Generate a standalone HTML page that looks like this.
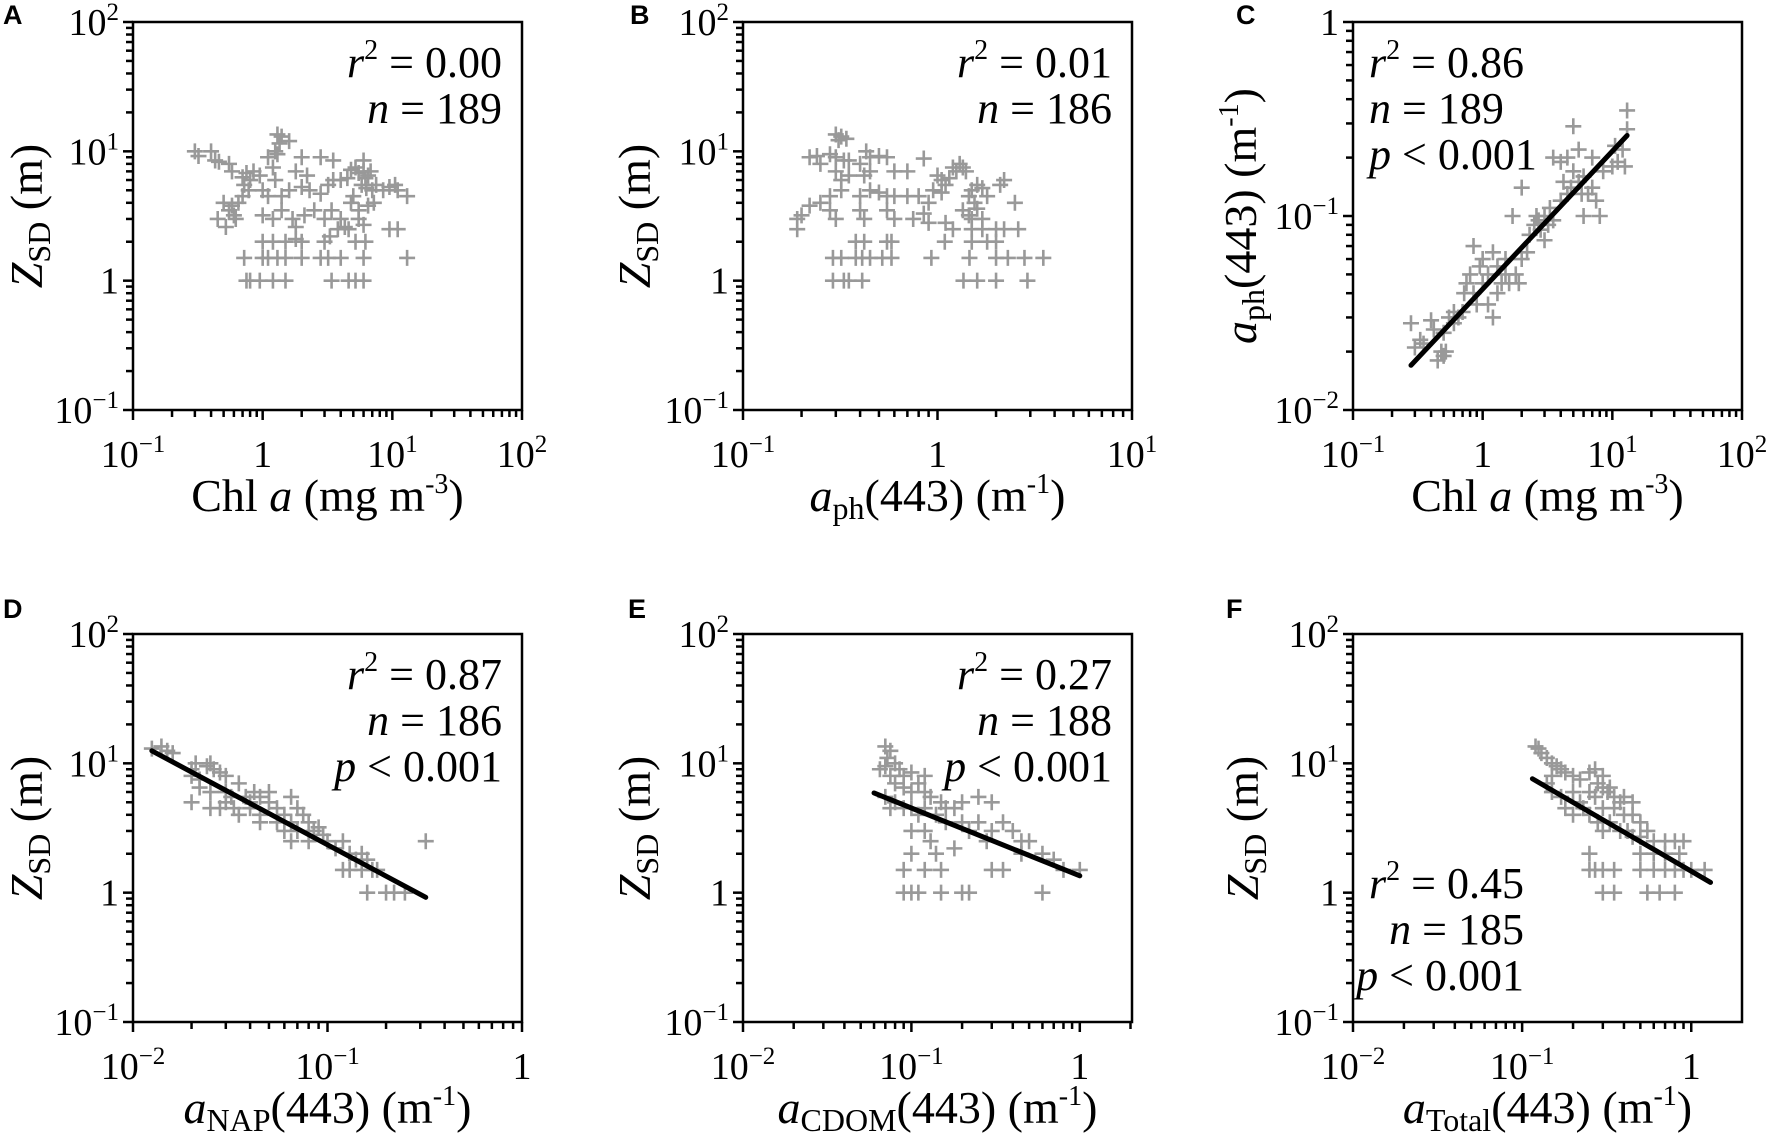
<!DOCTYPE html>
<html><head><meta charset="utf-8"><style>
html,body{margin:0;padding:0;background:#fff}
svg{display:block}
svg text{font-family:"Liberation Serif","DejaVu Serif",serif;fill:#000}
svg text.lbl{font-family:"Liberation Sans","DejaVu Sans",sans-serif;font-weight:bold;font-size:27px}
</style></head><body>
<svg id="fig" width="1772" height="1141" viewBox="0 0 1772 1141" xmlns="http://www.w3.org/2000/svg" font-family="Liberation Serif, serif"></svg>
<script>
// ---- data ----
const ptsA = [[0.3,10],[0.32,9.2],[0.4,10],[0.43,8.5],[0.46,8.3],[0.55,8],[0.58,7],[0.7,6.3],[0.72,5.5],[0.75,6.8],[0.8,6],[0.78,5],[0.85,7],[0.95,6.5],[1.1,9],[1.2,7.5],[1.3,13.5],[1.4,13],[1.35,11.5],[1.6,12],[1.25,10],[1.3,9.5],[2,9],[2.8,9],[3.5,8.5],[6,8.5],[1.8,7],[2.2,6.5],[1.25,6],[1.0,5],[1.1,4.5],[1.4,4.5],[1.6,5],[2.0,5.3],[2.3,5],[2.8,4.7],[3.2,5.5],[3.5,6],[4,6],[4.5,6.2],[4.8,7.2],[5.2,7.5],[5.5,6.8],[6,7],[6.2,6.2],[6.5,6.5],[6.8,7],[5.8,5.5],[6.3,5.2],[7,5],[7.5,5.5],[8.5,5],[9.5,5.3],[10.5,5.5],[11,5],[13,4.5],[5,4.5],[4.8,4],[5.5,3.5],[6.5,3.8],[7.2,4],[0.5,4],[0.55,3.5],[0.6,3.2],[0.45,3],[0.52,2.6],[0.58,3.8],[0.65,4],[0.7,4.5],[0.62,3],[1.0,3.2],[1.2,3],[1.4,3.5],[1.7,3],[2.1,3.2],[2.5,3.5],[3.0,3],[3.4,3.5],[4.0,3.0],[4.3,2.6],[4.6,2.5],[5.5,3],[6,2.7],[3.8,2.5],[1.8,2.6],[9.5,2.5],[11,2.5],[1,2],[1.2,2],[1.5,2],[1.8,2.1],[2,2],[3,2],[3.3,2.2],[5.2,2],[6.2,2],[0.72,1.5],[1,1.5],[1.1,1.5],[1.3,1.5],[1.5,1.5],[2,1.5],[2.8,1.5],[3.2,1.5],[4,1.5],[6,1.5],[13,1.5],[0.75,1],[0.8,1],[0.95,1],[1.2,1],[1.5,1],[3.4,1],[4.6,1],[5.2,1],[6,1]];
const ptsB = [[0.3,13.5],[0.32,13],[0.31,12.2],[0.34,12.5],[0.22,9],[0.24,9.2],[0.25,8],[0.28,9.5],[0.3,9],[0.33,8.5],[0.35,8.5],[0.4,8],[0.43,10],[0.45,9],[0.5,9.2],[0.55,9],[0.3,7],[0.32,6],[0.35,6.5],[0.42,6.5],[0.45,7],[0.6,7],[0.7,7],[0.85,8.8],[1.2,7.5],[1.3,8],[1.35,7.5],[1.4,7],[1.25,7],[1.0,6.5],[1.05,6],[1.1,5.5],[1.15,6.2],[0.95,5],[1.05,4.8],[1.5,5],[1.6,5.5],[1.7,5.2],[1.8,4.5],[2.1,5.5],[2.2,6],[1.45,4.5],[1.55,4],[1.6,3.6],[1.45,3.2],[1.5,3],[1.7,3],[1.35,3.5],[2.5,4],[0.28,4.5],[0.32,5],[0.4,4.5],[0.45,5],[0.5,4.8],[0.55,4.5],[0.6,4.5],[0.7,4.5],[0.8,4.5],[0.9,4],[0.25,4],[0.22,3.8],[0.28,3.5],[0.19,3],[0.2,3.2],[0.19,2.5],[0.3,3],[0.4,3.5],[0.42,3],[0.55,3.5],[0.6,3],[0.75,3],[0.85,3.3],[0.9,2.8],[1.1,2.8],[1.2,2.5],[1.5,2.5],[1.7,2.5],[2.0,2.5],[2.2,2.5],[2.6,2.5],[1.8,2],[0.38,2],[0.42,2],[0.55,2],[0.58,2],[1.09,2],[1.5,2],[2.0,2],[0.29,1.5],[0.32,1.5],[0.38,1.5],[0.41,1.5],[0.45,1.5],[0.52,1.5],[0.58,1.5],[0.93,1.5],[1.46,1.5],[2.0,1.5],[2.3,1.5],[2.8,1.5],[3.5,1.5],[0.29,1],[0.33,1],[0.35,1],[0.41,1],[1.36,1],[1.6,1],[2.0,1],[2.9,1]];
const ptsC = [[0.28,0.028],[0.3,0.021],[0.33,0.023],[0.35,0.022],[0.4,0.029],[0.42,0.026],[0.45,0.018],[0.5,0.019],[0.48,0.02],[0.52,0.02],[0.5,0.025],[0.55,0.03],[0.6,0.032],[0.6,0.028],[0.65,0.03],[0.7,0.032],[0.72,0.04],[0.75,0.045],[0.8,0.05],[0.85,0.04],[0.85,0.07],[0.9,0.035],[0.95,0.055],[1.0,0.045],[1.0,0.06],[1.1,0.05],[1.1,0.035],[1.2,0.03],[1.2,0.065],[1.3,0.04],[1.3,0.055],[1.4,0.045],[1.5,0.05],[1.5,0.06],[1.6,0.045],[1.7,0.1],[1.8,0.05],[1.9,0.045],[2.0,0.06],[2.0,0.14],[2.2,0.065],[2.3,0.08],[2.5,0.09],[2.6,0.1],[2.8,0.085],[3,0.1],[3,0.075],[3.3,0.11],[3.5,0.095],[3.5,0.2],[4,0.12],[4,0.19],[4.2,0.15],[4.5,0.13],[4.8,0.14],[5,0.29],[5,0.17],[5.5,0.15],[5.5,0.22],[6,0.1],[6,0.16],[6.5,0.13],[7,0.2],[7,0.14],[7.5,0.12],[8,0.1],[8.5,0.17],[10,0.18],[10.5,0.23],[11,0.19],[12,0.22],[12.5,0.18],[13,0.35],[13,0.28],[3.2,0.09],[2.7,0.095],[4.5,0.2],[5.8,0.13]];
const ptsD = [[0.0125,13],[0.014,13.5],[0.015,12.5],[0.016,12],[0.02,9],[0.021,10],[0.022,7.5],[0.024,9.5],[0.025,10],[0.026,9],[0.028,8.5],[0.02,8],[0.02,5],[0.022,6.5],[0.025,6],[0.025,4.5],[0.03,8],[0.03,6],[0.03,5],[0.032,5.5],[0.033,4.5],[0.035,7],[0.035,4],[0.038,5.5],[0.04,5],[0.04,4.5],[0.042,6],[0.045,5.5],[0.045,4],[0.05,5],[0.05,6],[0.055,4.5],[0.055,3.5],[0.06,4],[0.06,3],[0.065,5.5],[0.065,3.5],[0.07,4.5],[0.07,3],[0.075,4],[0.08,3.5],[0.08,2.5],[0.085,3],[0.09,3.2],[0.095,2.8],[0.1,2.5],[0.11,2.2],[0.12,2.5],[0.12,1.5],[0.13,2],[0.14,1.8],[0.15,1.5],[0.15,2],[0.16,1.8],[0.16,1],[0.17,1.5],[0.18,1.5],[0.2,1],[0.22,1],[0.25,1],[0.32,2.5],[0.13,1.5],[0.028,4.5],[0.045,3.5],[0.065,2.5]];
const ptsE = [[0.07,13.5],[0.075,12.5],[0.072,11],[0.08,10],[0.07,9.5],[0.065,9],[0.075,8],[0.085,9],[0.09,8],[0.1,8.5],[0.08,7],[0.09,6.5],[0.1,6],[0.11,7],[0.12,6],[0.13,5.5],[0.07,5.5],[0.075,4.5],[0.08,5],[0.09,4.5],[0.1,4.5],[0.11,4],[0.12,4.5],[0.14,4],[0.15,5],[0.16,4.5],[0.18,4.5],[0.2,5],[0.25,5.5],[0.3,5],[0.16,3.5],[0.2,3.5],[0.22,3],[0.25,3.5],[0.3,3],[0.35,3.5],[0.4,3],[0.45,2.5],[0.5,2.5],[0.6,2],[0.7,1.8],[0.8,1.5],[1.0,1.5],[0.1,3],[0.12,3],[0.13,2.5],[0.14,2],[0.1,2],[0.09,1.5],[0.12,1.5],[0.15,1.5],[0.3,1.5],[0.35,1.5],[0.45,2],[0.09,1],[0.1,1],[0.11,1],[0.15,1],[0.2,1],[0.22,1],[0.6,1],[0.28,2.5],[0.18,2.2],[0.12,8]];
const ptsF = [[0.12,13.5],[0.125,13],[0.13,12],[0.14,11],[0.15,10],[0.16,9.5],[0.17,9],[0.15,8],[0.18,8.5],[0.2,8],[0.22,7.5],[0.25,8.5],[0.27,9],[0.28,7],[0.3,6.5],[0.32,6],[0.35,5.5],[0.38,5],[0.3,8],[0.33,6.5],[0.14,7],[0.15,6],[0.17,5.5],[0.2,6],[0.22,5],[0.25,6],[0.27,5.5],[0.18,4.5],[0.2,4],[0.23,4.5],[0.25,4],[0.28,3.5],[0.3,4.5],[0.35,4.5],[0.4,4],[0.45,4],[0.5,3.5],[0.3,3],[0.33,3.5],[0.38,3],[0.42,3],[0.45,2.7],[0.5,2.7],[0.55,3],[0.6,2.5],[0.7,2.5],[0.8,2.5],[0.9,2.5],[0.5,2],[0.6,2],[0.7,2],[0.85,2],[0.25,2],[0.25,1.5],[0.27,1.5],[0.3,1.5],[0.35,1.5],[0.5,1.5],[0.6,1.5],[0.7,1.5],[0.8,1.5],[0.9,1.5],[1.0,1.5],[1.2,1.5],[0.3,1],[0.35,1],[0.55,1],[0.65,1],[0.8,1],[0.4,5.5],[0.45,5]];
const fitC = [[0.28,0.017],[13,0.26]];
const fitD = [[0.0125,12.5],[0.32,0.92]];
const fitE = [[0.06,5.9],[1.0,1.35]];
const fitF = [[0.115,7.6],[1.3,1.2]];
const statsA = ["0.00","189",null];
const statsB = ["0.01","186",null];
const statsC = ["0.86","189","0.001"];
const statsD = ["0.87","186","0.001"];
const statsE = ["0.27","188","0.001"];
const statsF = ["0.45","185","0.001"];

const NS="http://www.w3.org/2000/svg";
const SERIF='"Liberation Serif", "DejaVu Serif", serif';
const svg=document.getElementById('fig');
function mk(tag,attrs,parent){const e=document.createElementNS(NS,tag);for(const k in attrs)e.setAttribute(k,attrs[k]);if(tag==='text'&&!attrs['class'])e.style.fontFamily=SERIF;(parent||svg).appendChild(e);return e;}

const W=389,H=388;
const panels=[
 {id:'a',letter:'A',lx:3,ly:24,x0:133,y0:22,xr:[-1,2],yr:[-1,2],pts:ptsA,stats:statsA,fit:null,sx:502,sy:77,anchor:'end',ytk:26,yt:'z',xt:'chl'},
 {id:'b',letter:'B',lx:630,ly:24,x0:743,y0:22,xr:[-1,1],yr:[-1,2],pts:ptsB,stats:statsB,fit:null,sx:1112,sy:77,anchor:'end',ytk:634,yt:'z',xt:['ph']},
 {id:'c',letter:'C',lx:1236,ly:24,x0:1353,y0:22,xr:[-1,2],yr:[-2,0],pts:ptsC,stats:statsC,fit:fitC,sx:1369,sy:77,anchor:'start',ytk:1240,yt:'aph',xt:'chl'},
 {id:'d',letter:'D',lx:3,ly:618,x0:133,y0:634,xr:[-2,0],yr:[-1,2],pts:ptsD,stats:statsD,fit:fitD,sx:502,sy:689,anchor:'end',ytk:26,yt:'z',xt:['NAP']},
 {id:'e',letter:'E',lx:628,ly:618,x0:743,y0:634,xr:[-2,0.31],yr:[-1,2],pts:ptsE,stats:statsE,fit:fitE,sx:1112,sy:689,anchor:'end',ytk:634,yt:'z',xt:['CDOM']},
 {id:'f',letter:'F',lx:1226,ly:618,x0:1353,y0:634,xr:[-2,0.3],yr:[-1,2],pts:ptsF,stats:statsF,fit:fitF,sx:1524,sy:898,anchor:'end',ytk:1242,yt:'z',xt:['Total']}
];

function tickLabel(g,p,x,y,anchor){
  const t=mk('text',{x:x,y:y,'text-anchor':anchor,'font-size':38},g);
  
  
  if(p===0){t.textContent='1';return;}
  t.appendChild(document.createTextNode('10'));
  const s=mk('tspan',{dy:-15,'font-size':25},t);s.textContent=(p<0?'\u2212':'')+Math.abs(p);
}

panels.forEach(P=>{
  const g=mk('g',{});
  
  
  const X=v=>P.x0+(Math.log10(v)-P.xr[0])/(P.xr[1]-P.xr[0])*W;
  const Y=v=>P.y0+H-(Math.log10(v)-P.yr[0])/(P.yr[1]-P.yr[0])*H;
  const L=mk('text',{x:P.lx,y:P.ly,class:'lbl'},g);L.textContent=P.letter;
  
  
  const tk=mk('g',{stroke:'#000','stroke-width':2.5},g);
  
  
  for(let p=Math.floor(P.xr[0]);p<=Math.ceil(P.xr[1]);p++){
    for(let m=1;m<10;m++){const v=m*Math.pow(10,p);const lv=Math.log10(v);
      if(lv<P.xr[0]-1e-6||lv>P.xr[1]+1e-6)continue;
      const x=X(v);mk('line',{x1:x,x2:x,y1:P.y0+H,y2:P.y0+H+(m===1?10:7)},tk);
      if(m===1)tickLabel(g,p,x,P.y0+H+57,'middle');}
  }
  for(let p=Math.floor(P.yr[0]);p<=Math.ceil(P.yr[1]);p++){
    for(let m=1;m<10;m++){const v=m*Math.pow(10,p);const lv=Math.log10(v);
      if(lv<P.yr[0]-1e-6||lv>P.yr[1]+1e-6)continue;
      const y=Y(v);mk('line',{x1:P.x0,x2:P.x0-(m===1?10:7),y1:y,y2:y},tk);
      if(m===1)tickLabel(g,p,P.x0-14,y+13,'end');}
  }
  const pg=mk('g',{stroke:'#999','stroke-width':2.6,fill:'none'},g);
  
  
  P.pts.forEach(d=>{const x=X(d[0]),y=Y(d[1]);
    const pt=mk('path',{d:`M${x-8},${y}H${x+8}M${x},${y-8}V${y+8}`},pg);
    
    });
  if(P.fit){const f=mk('line',{x1:X(P.fit[0][0]),y1:Y(P.fit[0][1]),x2:X(P.fit[1][0]),y2:Y(P.fit[1][1]),stroke:'#000','stroke-width':5,'stroke-linecap':'round'},g);
    
    }
  const bx=mk('rect',{x:P.x0,y:P.y0,width:W,height:H,fill:'none',stroke:'#000','stroke-width':2.5},g);
  
  
  const st=P.stats;
  const lines=[['r','2',' = '+st[0]],['n',null,' = '+st[1]]];
  if(st[2])lines.push(['p',null,' < '+st[2]]);
  lines.forEach((ln,i)=>{
    const t=mk('text',{x:P.sx,y:P.sy+i*46,'text-anchor':P.anchor,'font-size':44},g);
    
    
    const a=mk('tspan',{'font-style':'italic'},t);a.textContent=ln[0];
    if(ln[1]){const s=mk('tspan',{dy:-18,'font-size':28},t);s.textContent=ln[1];
      const r=mk('tspan',{dy:18},t);r.textContent=ln[2];}
    else t.appendChild(document.createTextNode(ln[2]));
  });
  const xt=mk('text',{x:P.x0+W/2,y:P.y0+H+101,'text-anchor':'middle','font-size':46},g);
  
  
  if(P.xt==='chl'){
    xt.appendChild(document.createTextNode('Chl '));
    const a=mk('tspan',{'font-style':'italic'},xt);a.textContent='a';
    xt.appendChild(document.createTextNode(' (mg m'));
    const s=mk('tspan',{dy:-18,'font-size':28},xt);s.textContent='-3';
    const e=mk('tspan',{dy:18},xt);e.textContent=')';
  } else {
    const a=mk('tspan',{'font-style':'italic'},xt);a.textContent='a';
    const sb=mk('tspan',{dy:8,'font-size':32},xt);sb.textContent=P.xt[0];
    const r=mk('tspan',{dy:-8},xt);r.textContent='(443) (m';
    const s=mk('tspan',{dy:-18,'font-size':28},xt);s.textContent='-1';
    const e=mk('tspan',{dy:18},xt);e.textContent=')';
  }
  const cy=P.y0+H/2;
  const yt=mk('text',{x:0,y:0,'text-anchor':'middle','font-size':46,transform:`translate(${P.ytk+16},${cy}) rotate(-90)`},g);
  
  
  if(P.yt==='z'){
    const a=mk('tspan',{'font-style':'italic'},yt);a.textContent='Z';
    const sb=mk('tspan',{dy:8,'font-size':32},yt);sb.textContent='SD';
    const r=mk('tspan',{dy:-8},yt);r.textContent=' (m)';
  } else {
    const a=mk('tspan',{'font-style':'italic'},yt);a.textContent='a';
    const sb=mk('tspan',{dy:8,'font-size':32},yt);sb.textContent='ph';
    const r=mk('tspan',{dy:-8},yt);r.textContent='(443) (m';
    const s=mk('tspan',{dy:-18,'font-size':28},yt);s.textContent='-1';
    const e=mk('tspan',{dy:18},yt);e.textContent=')';
  }
});
</script>
</body></html>
